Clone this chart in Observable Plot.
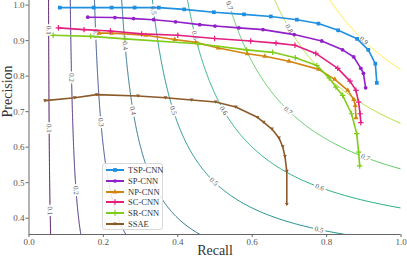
<!DOCTYPE html>
<html><head><meta charset="utf-8">
<script src="https://cdn.jsdelivr.net/npm/d3@7"></script>
<script src="https://cdn.jsdelivr.net/npm/@observablehq/plot@0.6"></script>
<style>
body{margin:0;background:#fff;}
#wrap{position:relative;width:407px;height:258px;font-family:"Liberation Serif",serif;}
#legend{position:absolute;left:102px;top:163px;width:61px;height:67px;border:1px solid #d8d8d8;border-radius:3px;background:rgba(255,255,255,0.85);box-sizing:border-box;font-size:8.5px;color:#333;padding:1px 0 0 3px}
.row{display:flex;align-items:center;height:10.7px;white-space:nowrap}
.row svg{margin-right:4px;flex:none}
</style></head><body><div id="wrap"><div id="legend"></div></div>
<script>
// ---- data ----
const seriesNames = ["TSP-CNN", "SP-CNN", "NP-CNN", "SC-CNN", "SR-CNN", "SSAE"];
const seriesColors = ["#1f8fdf", "#9220c8", "#d38410", "#e31f80", "#80cc1a", "#8c5a2a"];

const tspRecall    = [0.083, 0.174, 0.222, 0.284, 0.349, 0.417, 0.497, 0.578, 0.650, 0.720, 0.778, 0.831, 0.882, 0.912, 0.931, 0.935];
const tspPrecision = [0.993, 0.993, 0.993, 0.993, 0.993, 0.988, 0.980, 0.974, 0.968, 0.959, 0.948, 0.929, 0.905, 0.874, 0.835, 0.781];

const spRecall     = [0.158, 0.231, 0.281, 0.335, 0.394, 0.459, 0.500, 0.564, 0.629, 0.713, 0.787, 0.843, 0.873, 0.892, 0.899, 0.905];
const spPrecision  = [0.966, 0.965, 0.962, 0.959, 0.953, 0.945, 0.941, 0.936, 0.931, 0.917, 0.899, 0.874, 0.854, 0.822, 0.808, 0.767];

const npRecall     = [0.188, 0.222, 0.314, 0.392, 0.448, 0.509, 0.587, 0.634, 0.699, 0.779, 0.822, 0.857, 0.873, 0.877, 0.879];
const npPrecision  = [0.921, 0.921, 0.915, 0.903, 0.895, 0.879, 0.863, 0.856, 0.842, 0.819, 0.791, 0.760, 0.734, 0.717, 0.683];

const scRecall     = [0.079, 0.148, 0.219, 0.303, 0.400, 0.499, 0.596, 0.664, 0.715, 0.771, 0.830, 0.863, 0.879, 0.886, 0.890, 0.892];
const scPrecision  = [0.936, 0.931, 0.927, 0.919, 0.915, 0.906, 0.899, 0.893, 0.887, 0.864, 0.822, 0.786, 0.760, 0.727, 0.694, 0.669];

const srRecall     = [0.065, 0.166, 0.258, 0.454, 0.585, 0.655, 0.716, 0.774, 0.807, 0.825, 0.843, 0.867, 0.881, 0.886, 0.889];
const srPrecision  = [0.915, 0.912, 0.905, 0.891, 0.874, 0.867, 0.852, 0.830, 0.795, 0.769, 0.746, 0.694, 0.638, 0.586, 0.547];

const ssaeRecall    = [0.043, 0.123, 0.182, 0.293, 0.367, 0.437, 0.502, 0.556, 0.614, 0.631, 0.653, 0.672, 0.682, 0.688, 0.693, 0.693];
const ssaePrecision = [0.731, 0.739, 0.748, 0.744, 0.739, 0.733, 0.727, 0.713, 0.684, 0.670, 0.651, 0.626, 0.601, 0.574, 0.532, 0.439];

// iso-F1 levels and where their labels sit (by precision)
const fLevels = [0.1, 0.2, 0.3, 0.4, 0.5, 0.6, 0.7, 0.8, 0.9];
const labelLevels     = [0.1, 0.1, 0.1, 0.2, 0.2, 0.3, 0.3, 0.4, 0.4, 0.5, 0.5, 0.5, 0.5, 0.6, 0.6, 0.6, 0.7, 0.7, 0.7, 0.8, 0.9];
const labelPrecisions = [0.929, 0.653, 0.421, 0.796, 0.478, 0.920, 0.670, 0.886, 0.703, 0.985, 0.703, 0.503, 0.368, 0.915, 0.703, 0.487, 0.999, 0.703, 0.571, 0.934, 0.900];

const xTicks = [0, 0.2, 0.4, 0.6, 0.8, 1.0];
const yTicks = [0.4, 0.5, 0.6, 0.7, 0.8, 0.9, 1.0];

// ---- build ----
const W = 407, H = 258, mL = 28.5, mR = 6.5, mT = 0, mB = 24;
const yMin = 0.354, yMax = 1.013;
const kx = (W - mL - mR) / 1, ky = (H - mT - mB) / (yMax - yMin);

const recalls = [tspRecall, spRecall, npRecall, scRecall, srRecall, ssaeRecall];
const precisions = [tspPrecision, spPrecision, npPrecision, scPrecision, srPrecision, ssaePrecision];

const triDown = {draw(ctx, size) {
  const h = Math.sqrt(size) * 0.95;
  ctx.moveTo(0, h * 0.55); ctx.lineTo(h * 0.6, -h * 0.45); ctx.lineTo(-h * 0.6, -h * 0.45); ctx.closePath();
}};
const symbols = ["square", "circle", "triangle", "plus", "plus", triDown];
const d3Symbols = [d3.symbolSquare, d3.symbolCircle, d3.symbolTriangle, d3.symbolPlus || d3.symbolCross, d3.symbolPlus || d3.symbolCross, triDown];
const filled = [true, true, true, false, false, true];

// iso-F curves: R = F P / (2P - F)
const isoData = fLevels.flatMap(f => {
  const p0 = Math.max(yMin - 0.01, f / (2 - f));
  const pts = [];
  for (let i = 0; i <= 300; i++) {
    const p = p0 + (yMax + 0.01 - p0) * i / 300;
    pts.push({f, p, r: f * p / (2 * p - f)});
  }
  return pts;
});
const labelData = labelLevels.map((f, i) => {
  const p = labelPrecisions[i];
  const r = f * p / (2 * p - f);
  const dr = -f * f / ((2 * p - f) ** 2);
  let ang = Math.atan2(-ky, kx * dr) * 180 / Math.PI;
  if (ang < -90) ang += 180; if (ang > 90) ang -= 180;
  return {f, p, r, ang, text: f.toFixed(1)};
});

const marks = [
  Plot.line(isoData, {x: "r", y: "p", z: "f", stroke: "f", strokeWidth: 1, clip: true}),
  Plot.text(labelData, {x: "r", y: "p", text: "text", rotate: "ang", fill: "#555", stroke: "white", strokeWidth: 4, fontSize: 7, fontFamily: "Liberation Serif"}),
];
recalls.forEach((rs, i) => {
  const d = rs.map((r, j) => ({r, p: precisions[i][j]}));
  marks.push(Plot.line(d, {x: "r", y: "p", stroke: seriesColors[i], strokeWidth: 1.6, strokeLinejoin: "round"}));
  marks.push(Plot.dot(d, {x: "r", y: "p", symbol: symbols[i], r: i === 0 ? 2.1 : 1.9,
    fill: filled[i] ? seriesColors[i] : "none", stroke: seriesColors[i], strokeWidth: filled[i] ? 0 : 1.2}));
});
marks.push(
  Plot.ruleX([0], {stroke: "#666", strokeWidth: 1}),
  Plot.ruleY([yMin], {stroke: "#666", strokeWidth: 1}),
  Plot.axisX({ticks: xTicks, tickFormat: ".1f", tickSize: 3, tickPadding: 1.5, fontSize: 9, label: null, fill: "#555", stroke: "#666"}),
  Plot.axisY({ticks: yTicks, tickFormat: ".1f", tickSize: 3, tickPadding: 1.5, fontSize: 9, label: null, fill: "#555", stroke: "#666"}),
  Plot.text(["Recall"], {frameAnchor: "bottom", dy: 20, fontSize: 14, fill: "#333", fontFamily: "Liberation Serif"}),
  Plot.text(["Precision"], {frameAnchor: "left", dx: -21, rotate: -90, fontSize: 14, fill: "#333", fontFamily: "Liberation Serif"})
);

const chart = Plot.plot({
  width: W, height: H, marginLeft: mL, marginRight: mR, marginTop: mT, marginBottom: mB,
  style: {fontFamily: "Liberation Serif", background: "white", overflow: "visible"},
  x: {domain: [0, 1]},
  y: {domain: [yMin, yMax]},
  color: {type: "linear", scheme: "viridis", domain: [0.1, 0.9]},
  marks
});
const wrap = document.getElementById("wrap");
wrap.insertBefore(chart, wrap.firstChild);

// legend
const leg = document.getElementById("legend");
seriesNames.forEach((name, i) => {
  const row = document.createElement("div");
  row.className = "row";
  const sym = d3.symbol(d3Symbols[i], i === 0 ? 14 : 11)();
  row.innerHTML = `<svg width="18" height="8"><line x1="0" x2="18" y1="4" y2="4" stroke="${seriesColors[i]}" stroke-width="2"/>` +
    `<path transform="translate(9,4)" d="${sym}" fill="${filled[i] ? seriesColors[i] : "none"}" stroke="${seriesColors[i]}" stroke-width="${filled[i] ? 0 : 1.2}"/></svg><span>${name}</span>`;
  leg.appendChild(row);
});
</script>
</body></html>
